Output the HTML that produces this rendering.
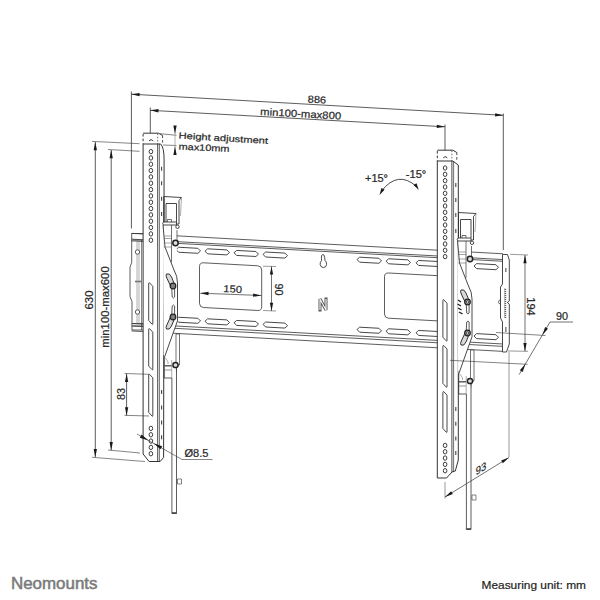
<!DOCTYPE html>
<html><head><meta charset="utf-8"><style>
html,body{margin:0;padding:0;background:#fff;width:600px;height:600px;overflow:hidden}
svg{display:block}
</style></head><body>
<svg width="600" height="600" viewBox="0 0 600 600" shape-rendering="geometricPrecision">
<line x1="131.50" y1="233.35" x2="503.00" y2="253.79" stroke="#333" stroke-width="0.8" />
<line x1="131.50" y1="239.15" x2="503.00" y2="259.58" stroke="#333" stroke-width="0.8" />
<line x1="131.50" y1="240.85" x2="503.00" y2="261.29" stroke="#333" stroke-width="0.8" />
<line x1="131.50" y1="323.55" x2="503.00" y2="343.99" stroke="#333" stroke-width="0.8" />
<line x1="131.50" y1="325.95" x2="503.00" y2="346.38" stroke="#333" stroke-width="0.8" />
<line x1="131.50" y1="330.95" x2="503.00" y2="351.38" stroke="#333" stroke-width="0.8" />
<path d="M176.00,249.60 L178.60,247.24 L197.90,248.30 L200.50,250.95 L197.90,253.30 L178.60,252.24 Z" stroke="#333" stroke-width="0.9" fill="none" stroke-linejoin="round"/>
<path d="M176.00,319.60 L178.60,317.24 L197.90,318.30 L200.50,320.95 L197.90,323.30 L178.60,322.24 Z" stroke="#333" stroke-width="0.9" fill="none" stroke-linejoin="round"/>
<path d="M205.00,251.19 L207.60,248.84 L226.90,249.90 L229.50,252.54 L226.90,254.90 L207.60,253.84 Z" stroke="#333" stroke-width="0.9" fill="none" stroke-linejoin="round"/>
<path d="M205.00,321.20 L207.60,318.84 L226.90,319.90 L229.50,322.54 L226.90,324.90 L207.60,323.84 Z" stroke="#333" stroke-width="0.9" fill="none" stroke-linejoin="round"/>
<path d="M234.00,252.79 L236.60,250.43 L255.90,251.49 L258.50,254.14 L255.90,256.49 L236.60,255.43 Z" stroke="#333" stroke-width="0.9" fill="none" stroke-linejoin="round"/>
<path d="M234.00,322.79 L236.60,320.43 L255.90,321.49 L258.50,324.14 L255.90,326.49 L236.60,325.43 Z" stroke="#333" stroke-width="0.9" fill="none" stroke-linejoin="round"/>
<path d="M263.00,254.38 L265.60,252.03 L284.90,253.09 L287.50,255.73 L284.90,258.09 L265.60,257.03 Z" stroke="#333" stroke-width="0.9" fill="none" stroke-linejoin="round"/>
<path d="M263.00,324.39 L265.60,322.03 L284.90,323.09 L287.50,325.73 L284.90,328.09 L265.60,327.03 Z" stroke="#333" stroke-width="0.9" fill="none" stroke-linejoin="round"/>
<path d="M357.00,259.56 L359.60,257.20 L378.90,258.26 L381.50,260.90 L378.90,263.26 L359.60,262.20 Z" stroke="#333" stroke-width="0.9" fill="none" stroke-linejoin="round"/>
<path d="M357.00,329.56 L359.60,327.20 L378.90,328.26 L381.50,330.90 L378.90,333.26 L359.60,332.20 Z" stroke="#333" stroke-width="0.9" fill="none" stroke-linejoin="round"/>
<path d="M386.00,261.15 L388.60,258.79 L407.90,259.85 L410.50,262.50 L407.90,264.85 L388.60,263.79 Z" stroke="#333" stroke-width="0.9" fill="none" stroke-linejoin="round"/>
<path d="M386.00,331.15 L388.60,328.79 L407.90,329.85 L410.50,332.50 L407.90,334.85 L388.60,333.79 Z" stroke="#333" stroke-width="0.9" fill="none" stroke-linejoin="round"/>
<path d="M416.00,262.80 L418.60,260.44 L437.90,261.50 L440.50,264.15 L437.90,266.50 L418.60,265.44 Z" stroke="#333" stroke-width="0.9" fill="none" stroke-linejoin="round"/>
<path d="M416.00,332.80 L418.60,330.44 L437.90,331.50 L440.50,334.15 L437.90,336.50 L418.60,335.44 Z" stroke="#333" stroke-width="0.9" fill="none" stroke-linejoin="round"/>
<path d="M474.00,265.99 L476.60,263.63 L495.90,264.69 L498.50,267.34 L495.90,269.69 L476.60,268.63 Z" stroke="#333" stroke-width="0.9" fill="none" stroke-linejoin="round"/>
<path d="M474.00,335.99 L476.60,333.63 L495.90,334.69 L498.50,337.34 L495.90,339.69 L476.60,338.63 Z" stroke="#333" stroke-width="0.9" fill="none" stroke-linejoin="round"/>
<path d="M203.5,262.81 L257.7,265.79 Q261.7,266.01 261.7,270.01 L261.7,306.71 Q261.7,310.71 257.7,310.49 L203.5,307.51 Q199.5,307.29 199.5,303.29 L199.5,266.59 Q199.5,262.59 203.5,262.81 Z" stroke="#333" stroke-width="0.8" fill="none" />
<path d="M388.5,272.99 L442,275.93 Q446,276.15 446,280.15 L446,317.35 Q446,321.35 442,321.13 L388.5,318.19 Q384.5,317.97 384.5,313.97 L384.5,276.77 Q384.5,272.77 388.5,272.99 Z" stroke="#333" stroke-width="0.8" fill="none" />
<path d="M322.6,254.5 Q321.2,255 321.4,258.5 L321.6,260.5 Q319.9,262 320.2,264.6 Q320.8,267.6 323.5,267.6 Q326.4,267.4 326.6,264.4 Q326.7,261.8 325,260.5 L324.7,257.5 Q324.3,254.3 322.6,254.5 Z" stroke="#333" stroke-width="0.9" fill="none" />
<path d="M320,310 L320,299 L326,310 L326,299" stroke="#555" stroke-width="3.0" fill="none" stroke-linejoin="miter" stroke-linecap="square"/>
<path d="M320,310 L320,299 L326,310 L326,299" stroke="#f4f4f4" stroke-width="1.2" fill="none" stroke-linejoin="miter" stroke-linecap="butt"/>
<path d="M131.7,233.5 L143,233.5 M132.5,240 L143,240 M131.7,233.5 L131.7,262.5 L130,267 L130,296.5 L132,301.5 L132,330 L143,330 M133,323.5 L143,323.5 M133,326 L143,326" stroke="#333" stroke-width="0.8" fill="none" />
<line x1="137.00" y1="240.00" x2="137.00" y2="323.50" stroke="#777" stroke-width="0.6" />
<line x1="139.00" y1="240.00" x2="139.00" y2="323.50" stroke="#777" stroke-width="0.6" />
<line x1="141.50" y1="240.00" x2="141.50" y2="330.00" stroke="#333" stroke-width="0.6" />
<circle cx="137.50" cy="252.00" r="2.2" stroke="#333" stroke-width="0.8" fill="#fff"/>
<circle cx="137.50" cy="312.00" r="2.2" stroke="#333" stroke-width="0.8" fill="#fff"/>
<line x1="135.00" y1="281.50" x2="142.00" y2="281.50" stroke="#777" stroke-width="1.6" />
<path d="M502.5,254.5 L507.5,254.5 L509.3,260 L509.3,301 L507.3,302.5 L509.3,304 L509.3,344 L506.5,352 L502.5,352 L502.5,322 L500.5,318 L500.5,287 L502.5,284 Z" stroke="#333" stroke-width="0.9" fill="#fff" />
<path d="M505.8,268 l0,4 M505.8,327 l0,5" stroke="#888" stroke-width="1.6" fill="none" />
<line x1="504.20" y1="289.00" x2="506.20" y2="289.60" stroke="#333" stroke-width="0.9" />
<line x1="504.20" y1="291.00" x2="506.20" y2="291.60" stroke="#333" stroke-width="0.9" />
<line x1="504.20" y1="293.00" x2="506.20" y2="293.60" stroke="#333" stroke-width="0.9" />
<line x1="504.20" y1="295.00" x2="506.20" y2="295.60" stroke="#333" stroke-width="0.9" />
<line x1="504.20" y1="297.00" x2="506.20" y2="297.60" stroke="#333" stroke-width="0.9" />
<line x1="504.20" y1="299.00" x2="506.20" y2="299.60" stroke="#333" stroke-width="0.9" />
<line x1="504.20" y1="301.00" x2="506.20" y2="301.60" stroke="#333" stroke-width="0.9" />
<line x1="504.20" y1="303.00" x2="506.20" y2="303.60" stroke="#333" stroke-width="0.9" />
<line x1="504.20" y1="305.00" x2="506.20" y2="305.60" stroke="#333" stroke-width="0.9" />
<line x1="504.20" y1="307.00" x2="506.20" y2="307.60" stroke="#333" stroke-width="0.9" />
<line x1="504.20" y1="309.00" x2="506.20" y2="309.60" stroke="#333" stroke-width="0.9" />
<line x1="504.20" y1="311.00" x2="506.20" y2="311.60" stroke="#333" stroke-width="0.9" />
<line x1="504.20" y1="313.00" x2="506.20" y2="313.60" stroke="#333" stroke-width="0.9" />
<line x1="504.20" y1="315.00" x2="506.20" y2="315.60" stroke="#333" stroke-width="0.9" />
<line x1="504.20" y1="317.00" x2="506.20" y2="317.60" stroke="#333" stroke-width="0.9" />
<path d="M500.5,300 a2,2 0 1 0 0,4" stroke="#333" stroke-width="0.7" fill="none" />
<path d="M143.1,144 L160.6,144 Q164.1,147 164.1,160 L163.6,457.5 L160.1,461.5 L149.1,461.5 L143.1,454.0 Z" stroke="#333" stroke-width="1.0" fill="#fff" />
<line x1="157.70" y1="144.00" x2="157.70" y2="461.00" stroke="#333" stroke-width="0.9" />
<line x1="159.40" y1="144.00" x2="159.40" y2="461.00" stroke="#333" stroke-width="0.7" />
<path d="M143.1,133.2 L158.6,133.2 L162.6,135.5" stroke="#333" stroke-width="1.0" fill="none" />
<path d="M143.1,134 L143.1,144" stroke="#333" stroke-width="1.0" fill="none" stroke-dasharray="2.6,2"/>
<path d="M162.6,135.5 L162.6,144" stroke="#333" stroke-width="0.9" fill="none" stroke-dasharray="2.6,2"/>
<path d="M157.7,133.5 L157.7,144" stroke="#333" stroke-width="0.7" fill="none" stroke-dasharray="1.6,1.6"/>
<path d="M149.1,140.8 q2,-2.4 4,0" stroke="#333" stroke-width="1.0" fill="none" />
<ellipse cx="150.90" cy="151.60" rx="1.8" ry="2.2" stroke="#333" stroke-width="0.95" fill="none"/>
<ellipse cx="150.90" cy="157.93" rx="1.8" ry="2.2" stroke="#333" stroke-width="0.95" fill="none"/>
<ellipse cx="150.90" cy="164.26" rx="1.8" ry="2.2" stroke="#333" stroke-width="0.95" fill="none"/>
<ellipse cx="150.90" cy="170.59" rx="1.8" ry="2.2" stroke="#333" stroke-width="0.95" fill="none"/>
<ellipse cx="150.90" cy="176.92" rx="1.8" ry="2.2" stroke="#333" stroke-width="0.95" fill="none"/>
<ellipse cx="150.90" cy="183.25" rx="1.8" ry="2.2" stroke="#333" stroke-width="0.95" fill="none"/>
<ellipse cx="150.90" cy="189.58" rx="1.8" ry="2.2" stroke="#333" stroke-width="0.95" fill="none"/>
<ellipse cx="150.90" cy="195.91" rx="1.8" ry="2.2" stroke="#333" stroke-width="0.95" fill="none"/>
<ellipse cx="150.90" cy="202.24" rx="1.8" ry="2.2" stroke="#333" stroke-width="0.95" fill="none"/>
<ellipse cx="150.90" cy="208.57" rx="1.8" ry="2.2" stroke="#333" stroke-width="0.95" fill="none"/>
<ellipse cx="150.90" cy="214.90" rx="1.8" ry="2.2" stroke="#333" stroke-width="0.95" fill="none"/>
<ellipse cx="150.90" cy="221.23" rx="1.8" ry="2.2" stroke="#333" stroke-width="0.95" fill="none"/>
<ellipse cx="150.90" cy="227.56" rx="1.8" ry="2.2" stroke="#333" stroke-width="0.95" fill="none"/>
<ellipse cx="150.90" cy="233.89" rx="1.8" ry="2.2" stroke="#333" stroke-width="0.95" fill="none"/>
<ellipse cx="150.90" cy="240.22" rx="1.8" ry="2.2" stroke="#333" stroke-width="0.95" fill="none"/>
<path d="M148.70,283.50 Q148.70,282.50 149.50,282.80 L152.80,286.30 L152.80,323.80 Q152.80,324.90 152.00,324.10 L148.70,320.50 Z" stroke="#333" stroke-width="0.9" fill="none" stroke-linejoin="round"/>
<path d="M148.70,329.40 Q148.70,328.40 149.50,328.70 L152.80,332.20 L152.80,369.30 Q152.80,370.40 152.00,369.60 L148.70,366.00 Z" stroke="#333" stroke-width="0.9" fill="none" stroke-linejoin="round"/>
<path d="M148.70,375.00 Q148.70,374.00 149.50,374.30 L152.80,377.80 L152.80,415.70 Q152.80,416.80 152.00,416.00 L148.70,412.40 Z" stroke="#333" stroke-width="0.9" fill="none" stroke-linejoin="round"/>
<ellipse cx="150.90" cy="428.40" rx="1.8" ry="2.2" stroke="#333" stroke-width="0.95" fill="none"/>
<ellipse cx="150.90" cy="434.73" rx="1.8" ry="2.2" stroke="#333" stroke-width="0.95" fill="none"/>
<ellipse cx="150.90" cy="441.06" rx="1.8" ry="2.2" stroke="#333" stroke-width="0.95" fill="none"/>
<ellipse cx="150.90" cy="447.39" rx="1.8" ry="2.2" stroke="#333" stroke-width="0.95" fill="none"/>
<ellipse cx="150.90" cy="453.72" rx="1.8" ry="2.2" stroke="#333" stroke-width="0.95" fill="none"/>
<line x1="161.60" y1="166.80" x2="161.60" y2="170.80" stroke="#444" stroke-width="1.1" />
<line x1="161.60" y1="181.30" x2="161.60" y2="185.30" stroke="#444" stroke-width="1.1" />
<line x1="161.60" y1="196.80" x2="161.60" y2="200.80" stroke="#444" stroke-width="1.1" />
<line x1="161.60" y1="212.00" x2="161.60" y2="216.00" stroke="#444" stroke-width="1.1" />
<line x1="161.60" y1="390.00" x2="161.60" y2="394.00" stroke="#444" stroke-width="1.1" />
<line x1="161.60" y1="405.40" x2="161.60" y2="409.40" stroke="#444" stroke-width="1.1" />
<line x1="161.60" y1="420.60" x2="161.60" y2="424.60" stroke="#444" stroke-width="1.1" />
<line x1="161.60" y1="435.20" x2="161.60" y2="439.20" stroke="#444" stroke-width="1.1" />
<path d="M437.3,161 L452.8,161 L458.3,165 L458.3,460 L455.3,471 L452.0,472 L446.5,478 L437.3,478 Z" stroke="#333" stroke-width="1.0" fill="#fff" />
<line x1="451.90" y1="161.00" x2="451.90" y2="472.00" stroke="#333" stroke-width="0.9" />
<line x1="453.60" y1="161.00" x2="453.60" y2="471.50" stroke="#333" stroke-width="0.7" />
<path d="M437.3,150.2 L452.8,150.2 L456.8,152.5" stroke="#333" stroke-width="1.0" fill="none" />
<path d="M437.3,151 L437.3,161" stroke="#333" stroke-width="1.0" fill="none" stroke-dasharray="2.6,2"/>
<path d="M456.8,152.5 L456.8,161" stroke="#333" stroke-width="0.9" fill="none" stroke-dasharray="2.6,2"/>
<path d="M451.90000000000003,150.5 L451.90000000000003,161" stroke="#333" stroke-width="0.7" fill="none" stroke-dasharray="1.6,1.6"/>
<path d="M443.3,157.8 q2,-2.4 4,0" stroke="#333" stroke-width="1.0" fill="none" />
<ellipse cx="445.10" cy="168.00" rx="1.8" ry="2.2" stroke="#333" stroke-width="0.95" fill="none"/>
<ellipse cx="445.10" cy="174.33" rx="1.8" ry="2.2" stroke="#333" stroke-width="0.95" fill="none"/>
<ellipse cx="445.10" cy="180.66" rx="1.8" ry="2.2" stroke="#333" stroke-width="0.95" fill="none"/>
<ellipse cx="445.10" cy="186.99" rx="1.8" ry="2.2" stroke="#333" stroke-width="0.95" fill="none"/>
<ellipse cx="445.10" cy="193.32" rx="1.8" ry="2.2" stroke="#333" stroke-width="0.95" fill="none"/>
<ellipse cx="445.10" cy="199.65" rx="1.8" ry="2.2" stroke="#333" stroke-width="0.95" fill="none"/>
<ellipse cx="445.10" cy="205.98" rx="1.8" ry="2.2" stroke="#333" stroke-width="0.95" fill="none"/>
<ellipse cx="445.10" cy="212.31" rx="1.8" ry="2.2" stroke="#333" stroke-width="0.95" fill="none"/>
<ellipse cx="445.10" cy="218.64" rx="1.8" ry="2.2" stroke="#333" stroke-width="0.95" fill="none"/>
<ellipse cx="445.10" cy="224.97" rx="1.8" ry="2.2" stroke="#333" stroke-width="0.95" fill="none"/>
<ellipse cx="445.10" cy="231.30" rx="1.8" ry="2.2" stroke="#333" stroke-width="0.95" fill="none"/>
<ellipse cx="445.10" cy="237.63" rx="1.8" ry="2.2" stroke="#333" stroke-width="0.95" fill="none"/>
<ellipse cx="445.10" cy="243.96" rx="1.8" ry="2.2" stroke="#333" stroke-width="0.95" fill="none"/>
<ellipse cx="445.10" cy="250.29" rx="1.8" ry="2.2" stroke="#333" stroke-width="0.95" fill="none"/>
<ellipse cx="445.10" cy="256.62" rx="1.8" ry="2.2" stroke="#333" stroke-width="0.95" fill="none"/>
<path d="M442.90,300.40 Q442.90,299.40 443.70,299.70 L447.00,303.20 L447.00,340.50 Q447.00,341.60 446.20,340.80 L442.90,337.20 Z" stroke="#333" stroke-width="0.9" fill="none" stroke-linejoin="round"/>
<path d="M442.90,346.20 Q442.90,345.20 443.70,345.50 L447.00,349.00 L447.00,386.70 Q447.00,387.80 446.20,387.00 L442.90,383.40 Z" stroke="#333" stroke-width="0.9" fill="none" stroke-linejoin="round"/>
<path d="M442.90,392.30 Q442.90,391.30 443.70,391.60 L447.00,395.10 L447.00,431.80 Q447.00,432.90 446.20,432.10 L442.90,428.50 Z" stroke="#333" stroke-width="0.9" fill="none" stroke-linejoin="round"/>
<ellipse cx="445.10" cy="445.40" rx="1.8" ry="2.2" stroke="#333" stroke-width="0.95" fill="none"/>
<ellipse cx="445.10" cy="451.73" rx="1.8" ry="2.2" stroke="#333" stroke-width="0.95" fill="none"/>
<ellipse cx="445.10" cy="458.06" rx="1.8" ry="2.2" stroke="#333" stroke-width="0.95" fill="none"/>
<ellipse cx="445.10" cy="464.39" rx="1.8" ry="2.2" stroke="#333" stroke-width="0.95" fill="none"/>
<ellipse cx="445.10" cy="470.72" rx="1.8" ry="2.2" stroke="#333" stroke-width="0.95" fill="none"/>
<line x1="455.80" y1="183.00" x2="455.80" y2="187.00" stroke="#444" stroke-width="1.1" />
<line x1="455.80" y1="198.00" x2="455.80" y2="202.00" stroke="#444" stroke-width="1.1" />
<line x1="455.80" y1="213.00" x2="455.80" y2="217.00" stroke="#444" stroke-width="1.1" />
<line x1="455.80" y1="229.00" x2="455.80" y2="233.00" stroke="#444" stroke-width="1.1" />
<line x1="455.80" y1="407.00" x2="455.80" y2="411.00" stroke="#444" stroke-width="1.1" />
<line x1="455.80" y1="421.70" x2="455.80" y2="425.70" stroke="#444" stroke-width="1.1" />
<line x1="455.80" y1="436.50" x2="455.80" y2="440.50" stroke="#444" stroke-width="1.1" />
<line x1="455.80" y1="451.00" x2="455.80" y2="455.00" stroke="#444" stroke-width="1.1" />
<path d="M163.60,222.00 L176.80,222.00 L176.80,268.00 L177.50,283.00 L177.50,321.00 L165.00,355.00 L163.60,355.00 Z" stroke="none" stroke-width="0" fill="#fff" />
<path d="M164.00,196.50 L181.50,197.50 L179.00,200.50 L179.00,224.00 L164.00,224.00 Z" stroke="#333" stroke-width="0.9" fill="#fff" />
<path d="M164.00,196.50 L164.00,224.00" stroke="#333" stroke-width="1.0" fill="none" />
<path d="M166.00,222.00 L166.00,203.50 L176.50,203.50 L176.50,222.00" stroke="#333" stroke-width="0.9" fill="none" />
<path d="M181.50,197.50 L180.50,216.00" stroke="#777" stroke-width="0.6" fill="none" />
<path d="M167.50,222.00 L167.50,219.50 L171.50,219.50 L171.50,222.00" stroke="#333" stroke-width="0.7" fill="none" />
<path d="M163.50,222.00 L176.50,222.00 L176.50,225.00 L163.50,225.00 Q161.80,223.50 163.50,222.00 Z" stroke="#333" stroke-width="0.9" fill="#fff" />
<circle cx="177.50" cy="226.80" r="1.7" stroke="#333" stroke-width="0.9" fill="none"/>
<path d="M163.00,225.00 L165.00,247.00 L174.00,270.00 Q177.50,276.00 177.50,283.00 L177.50,320.80 L164.20,358.00 L164.20,378.00" stroke="#333" stroke-width="0.9" fill="#fff" />
<path d="M171.50,225.00 L171.50,262.00" stroke="#333" stroke-width="0.7" fill="none" />
<line x1="163.80" y1="236.00" x2="171.50" y2="236.00" stroke="#666" stroke-width="0.6" />
<line x1="163.80" y1="238.50" x2="171.50" y2="238.50" stroke="#666" stroke-width="0.6" />
<line x1="163.80" y1="243.00" x2="171.50" y2="243.00" stroke="#666" stroke-width="0.6" />
<line x1="163.80" y1="247.00" x2="171.50" y2="247.00" stroke="#666" stroke-width="0.6" />
<line x1="177.00" y1="230.00" x2="177.00" y2="240.00" stroke="#333" stroke-width="0.7" />
<path d="M176.00,334.00 L179.50,334.00 L179.50,365.00 L176.00,365.00 Z" stroke="#333" stroke-width="0.7" fill="#fff" />
<circle cx="175.50" cy="365.00" r="2.6" stroke="#222" stroke-width="1.5" fill="#ddd"/>
<path d="M164.20,378.00 L171.70,378.00 Q176.30,377.50 176.50,368.00" stroke="#333" stroke-width="0.8" fill="none" />
<path d="M171.70,360.00 L171.70,378.00" stroke="#777" stroke-width="0.6" fill="none" />
<path d="M164.50,365.80 L171.50,365.80" stroke="#444" stroke-width="1.3" fill="none" />
<path d="M164.50,370.00 L171.50,370.00" stroke="#666" stroke-width="0.7" fill="none" />
<path d="M165.50,358.00 L168.00,362.00 L168.00,364.00" stroke="#777" stroke-width="0.6" fill="none" />
<path d="M171.90,378.00 L171.90,513.50 L176.50,513.50 L176.50,368.00" stroke="#333" stroke-width="0.8" fill="#fff" />
<line x1="171.90" y1="513.00" x2="176.50" y2="513.00" stroke="#444" stroke-width="1.6" />
<path d="M177.50,479.00 L181.50,479.00 L181.50,484.00 L177.50,484.00 Z" stroke="#333" stroke-width="0.6" fill="none" />
<circle cx="175.50" cy="243.00" r="2.7" stroke="#222" stroke-width="1.5" fill="#ddd"/>
<path d="M166.50,274.00 Q169.50,272.50 171.50,277.00 L174.80,285.00 L170.80,286.50 L166.80,278.00 Q165.50,275.50 166.50,274.00 Z" stroke="#333" stroke-width="1.0" fill="#d8d8d8" />
<path d="M171.70,287.00 L172.20,297.00 Q173.50,299.00 174.60,297.00 L174.60,287.00" stroke="#444" stroke-width="0.9" fill="#fff" />
<circle cx="173.00" cy="286.00" r="2.8" stroke="#222" stroke-width="1.2" fill="#999"/>
<circle cx="173.00" cy="286.00" r="1.2" stroke="#222" stroke-width="0.7" fill="#eee"/>
<path d="M166.50,329.00 Q169.50,330.50 171.50,326.00 L174.80,318.00 L170.80,316.50 L166.80,325.00 Q165.50,327.50 166.50,329.00 Z" stroke="#333" stroke-width="1.0" fill="#d8d8d8" />
<path d="M171.70,316.00 L172.20,306.00 Q173.50,304.00 174.60,306.00 L174.60,316.00" stroke="#444" stroke-width="0.9" fill="#fff" />
<circle cx="173.00" cy="317.00" r="2.8" stroke="#222" stroke-width="1.2" fill="#999"/>
<circle cx="173.00" cy="317.00" r="1.2" stroke="#222" stroke-width="0.7" fill="#eee"/>
<path d="M458.10,238.00 L471.30,238.00 L471.30,284.00 L472.00,299.00 L472.00,337.00 L459.50,371.00 L458.10,371.00 Z" stroke="none" stroke-width="0" fill="#fff" />
<path d="M458.50,212.50 L476.00,213.50 L473.50,216.50 L473.50,240.00 L458.50,240.00 Z" stroke="#333" stroke-width="0.9" fill="#fff" />
<path d="M458.50,212.50 L458.50,240.00" stroke="#333" stroke-width="1.0" fill="none" />
<path d="M460.50,238.00 L460.50,219.50 L471.00,219.50 L471.00,238.00" stroke="#333" stroke-width="0.9" fill="none" />
<path d="M476.00,213.50 L475.00,232.00" stroke="#777" stroke-width="0.6" fill="none" />
<path d="M462.00,238.00 L462.00,235.50 L466.00,235.50 L466.00,238.00" stroke="#333" stroke-width="0.7" fill="none" />
<path d="M458.00,238.00 L471.00,238.00 L471.00,241.00 L458.00,241.00 Q456.30,239.50 458.00,238.00 Z" stroke="#333" stroke-width="0.9" fill="#fff" />
<circle cx="472.00" cy="242.80" r="1.7" stroke="#333" stroke-width="0.9" fill="none"/>
<path d="M457.50,241.00 L459.50,263.00 L468.50,286.00 Q472.00,292.00 472.00,299.00 L472.00,336.80 L458.70,374.00 L458.70,394.00" stroke="#333" stroke-width="0.9" fill="#fff" />
<path d="M466.00,241.00 L466.00,278.00" stroke="#333" stroke-width="0.7" fill="none" />
<line x1="458.30" y1="252.00" x2="466.00" y2="252.00" stroke="#666" stroke-width="0.6" />
<line x1="458.30" y1="254.50" x2="466.00" y2="254.50" stroke="#666" stroke-width="0.6" />
<line x1="458.30" y1="259.00" x2="466.00" y2="259.00" stroke="#666" stroke-width="0.6" />
<line x1="458.30" y1="263.00" x2="466.00" y2="263.00" stroke="#666" stroke-width="0.6" />
<line x1="471.50" y1="246.00" x2="471.50" y2="256.00" stroke="#333" stroke-width="0.7" />
<path d="M470.50,350.00 L474.00,350.00 L474.00,381.00 L470.50,381.00 Z" stroke="#333" stroke-width="0.7" fill="#fff" />
<circle cx="470.00" cy="381.00" r="2.6" stroke="#222" stroke-width="1.5" fill="#ddd"/>
<path d="M458.70,394.00 L466.20,394.00 Q470.80,393.50 471.00,384.00" stroke="#333" stroke-width="0.8" fill="none" />
<path d="M466.20,376.00 L466.20,394.00" stroke="#777" stroke-width="0.6" fill="none" />
<path d="M459.00,381.80 L466.00,381.80" stroke="#444" stroke-width="1.3" fill="none" />
<path d="M459.00,386.00 L466.00,386.00" stroke="#666" stroke-width="0.7" fill="none" />
<path d="M460.00,374.00 L462.50,378.00 L462.50,380.00" stroke="#777" stroke-width="0.6" fill="none" />
<path d="M466.40,394.00 L466.40,529.50 L471.00,529.50 L471.00,384.00" stroke="#333" stroke-width="0.8" fill="#fff" />
<line x1="466.40" y1="529.00" x2="471.00" y2="529.00" stroke="#444" stroke-width="1.6" />
<path d="M472.00,495.00 L476.00,495.00 L476.00,500.00 L472.00,500.00 Z" stroke="#333" stroke-width="0.6" fill="none" />
<circle cx="470.00" cy="259.00" r="2.7" stroke="#222" stroke-width="1.5" fill="#ddd"/>
<path d="M461.00,290.00 Q464.00,288.50 466.00,293.00 L469.30,301.00 L465.30,302.50 L461.30,294.00 Q460.00,291.50 461.00,290.00 Z" stroke="#333" stroke-width="1.0" fill="#d8d8d8" />
<path d="M466.20,303.00 L466.70,313.00 Q468.00,315.00 469.10,313.00 L469.10,303.00" stroke="#444" stroke-width="0.9" fill="#fff" />
<circle cx="467.50" cy="302.00" r="2.8" stroke="#222" stroke-width="1.2" fill="#999"/>
<circle cx="467.50" cy="302.00" r="1.2" stroke="#222" stroke-width="0.7" fill="#eee"/>
<path d="M461.00,345.00 Q464.00,346.50 466.00,342.00 L469.30,334.00 L465.30,332.50 L461.30,341.00 Q460.00,343.50 461.00,345.00 Z" stroke="#333" stroke-width="1.0" fill="#d8d8d8" />
<path d="M466.20,332.00 L466.70,322.00 Q468.00,320.00 469.10,322.00 L469.10,332.00" stroke="#444" stroke-width="0.9" fill="#fff" />
<circle cx="467.50" cy="333.00" r="2.8" stroke="#222" stroke-width="1.2" fill="#999"/>
<circle cx="467.50" cy="333.00" r="1.2" stroke="#222" stroke-width="0.7" fill="#eee"/>
<line x1="458.00" y1="300.00" x2="461.00" y2="302.00" stroke="#222" stroke-width="1.4" />
<line x1="457.50" y1="304.00" x2="461.00" y2="306.00" stroke="#222" stroke-width="1.4" />
<line x1="458.00" y1="308.00" x2="461.50" y2="310.00" stroke="#222" stroke-width="1.4" />
<line x1="459.00" y1="312.00" x2="462.50" y2="314.00" stroke="#222" stroke-width="1.4" />
<line x1="131.40" y1="91.50" x2="131.40" y2="228.50" stroke="#333" stroke-width="0.8" />
<line x1="503.30" y1="113.50" x2="503.30" y2="250.00" stroke="#333" stroke-width="0.8" />
<line x1="131.40" y1="94.20" x2="503.30" y2="115.30" stroke="#333" stroke-width="0.8" />
<path d="M131.40,94.20 L139.68,93.02 L139.49,96.31 Z" fill="#1a1a1a"/>
<path d="M503.30,115.30 L495.02,116.48 L495.21,113.19 Z" fill="#1a1a1a"/>
<text x="316.8" y="103" font-family="Liberation Sans" font-size="10" fill="#2a2a2a" text-anchor="middle" font-weight="normal" textLength="18.5" lengthAdjust="spacingAndGlyphs" transform="rotate(3.2 316.8 103)" stroke="#2a2a2a" stroke-width="0.22">886</text>
<line x1="150.30" y1="107.50" x2="150.30" y2="133.00" stroke="#333" stroke-width="0.8" />
<line x1="445.00" y1="124.50" x2="445.00" y2="150.00" stroke="#333" stroke-width="0.8" />
<line x1="150.30" y1="110.30" x2="445.00" y2="126.80" stroke="#333" stroke-width="0.8" />
<path d="M150.30,110.30 L158.58,109.11 L158.39,112.41 Z" fill="#1a1a1a"/>
<path d="M445.00,126.80 L436.72,127.99 L436.91,124.69 Z" fill="#1a1a1a"/>
<text x="300.5" y="117.3" font-family="Liberation Sans" font-size="10.2" fill="#2a2a2a" text-anchor="middle" font-weight="normal" textLength="81" lengthAdjust="spacingAndGlyphs" transform="rotate(3.2 300.5 117.3)" stroke="#2a2a2a" stroke-width="0.22">min100-max800</text>
<line x1="160.00" y1="133.70" x2="176.50" y2="135.30" stroke="#333" stroke-width="0.6" />
<line x1="163.00" y1="145.00" x2="176.50" y2="145.50" stroke="#333" stroke-width="0.6" />
<line x1="175.00" y1="126.00" x2="175.00" y2="154.50" stroke="#999" stroke-width="0.8" />
<path d="M175.00,134.00 L173.35,125.40 L176.65,125.40 Z" fill="#1a1a1a"/>
<path d="M175.00,146.30 L176.65,154.90 L173.35,154.90 Z" fill="#1a1a1a"/>
<text x="178.5" y="138.6" font-family="Liberation Sans" font-size="9.0" fill="#2a2a2a" text-anchor="start" font-weight="normal" textLength="89.5" lengthAdjust="spacingAndGlyphs" transform="rotate(3.4 178.5 138.6)" stroke="#2a2a2a" stroke-width="0.22">Height adjustment</text>
<text x="178.5" y="149.6" font-family="Liberation Sans" font-size="9.0" fill="#2a2a2a" text-anchor="start" font-weight="normal" textLength="51" lengthAdjust="spacingAndGlyphs" transform="rotate(2.5 178.5 149.6)" stroke="#2a2a2a" stroke-width="0.22">max10mm</text>
<line x1="92.00" y1="141.40" x2="139.60" y2="143.70" stroke="#333" stroke-width="0.6" />
<line x1="92.00" y1="457.30" x2="145.00" y2="461.50" stroke="#333" stroke-width="0.6" />
<line x1="95.30" y1="142.00" x2="95.30" y2="457.30" stroke="#333" stroke-width="0.8" />
<path d="M95.30,142.00 L96.95,150.20 L93.65,150.20 Z" fill="#1a1a1a"/>
<path d="M95.30,457.30 L93.65,449.10 L96.95,449.10 Z" fill="#1a1a1a"/>
<text x="92.5" y="300" font-family="Liberation Sans" font-size="10" fill="#2a2a2a" text-anchor="middle" font-weight="normal" textLength="19" lengthAdjust="spacingAndGlyphs" transform="rotate(-90 92.5 300)" stroke="#2a2a2a" stroke-width="0.22">630</text>
<line x1="108.00" y1="149.50" x2="139.60" y2="151.30" stroke="#333" stroke-width="0.6" />
<line x1="108.00" y1="450.00" x2="140.00" y2="453.00" stroke="#333" stroke-width="0.6" />
<line x1="111.20" y1="150.00" x2="111.20" y2="450.30" stroke="#333" stroke-width="0.8" />
<path d="M111.20,150.00 L112.85,158.20 L109.55,158.20 Z" fill="#1a1a1a"/>
<path d="M111.20,450.30 L109.55,442.10 L112.85,442.10 Z" fill="#1a1a1a"/>
<text x="108.8" y="307" font-family="Liberation Sans" font-size="10.2" fill="#2a2a2a" text-anchor="middle" font-weight="normal" textLength="81.5" lengthAdjust="spacingAndGlyphs" transform="rotate(-90 108.8 307)" stroke="#2a2a2a" stroke-width="0.22">min100-max600</text>
<line x1="124.50" y1="373.50" x2="149.00" y2="374.30" stroke="#333" stroke-width="0.6" />
<line x1="124.50" y1="415.30" x2="149.00" y2="416.00" stroke="#333" stroke-width="0.6" />
<line x1="126.60" y1="373.80" x2="126.60" y2="415.50" stroke="#333" stroke-width="0.8" />
<path d="M126.60,373.80 L128.25,382.00 L124.95,382.00 Z" fill="#1a1a1a"/>
<path d="M126.60,415.50 L124.95,407.30 L128.25,407.30 Z" fill="#1a1a1a"/>
<text x="125" y="394" font-family="Liberation Sans" font-size="10" fill="#2a2a2a" text-anchor="middle" font-weight="normal" textLength="12" lengthAdjust="spacingAndGlyphs" transform="rotate(-90 125 394)" stroke="#2a2a2a" stroke-width="0.22">83</text>
<line x1="137.00" y1="434.00" x2="182.00" y2="459.50" stroke="#333" stroke-width="0.6" />
<line x1="182.00" y1="459.50" x2="212.50" y2="459.50" stroke="#333" stroke-width="0.6" />
<path d="M148.50,440.50 L139.78,437.63 L141.56,434.50 Z" fill="#1a1a1a"/>
<path d="M153.50,443.30 L162.22,446.17 L160.44,449.30 Z" fill="#1a1a1a"/>
<text x="184.5" y="457" font-family="Liberation Sans" font-size="10" fill="#2a2a2a" text-anchor="start" font-weight="normal" textLength="24" lengthAdjust="spacingAndGlyphs"  stroke="#2a2a2a" stroke-width="0.22">Ø8.5</text>
<line x1="200.30" y1="293.20" x2="261.30" y2="295.50" stroke="#333" stroke-width="0.7" />
<path d="M200.30,293.20 L208.56,291.86 L208.43,295.16 Z" fill="#1a1a1a"/>
<path d="M261.30,295.50 L253.04,296.84 L253.17,293.54 Z" fill="#1a1a1a"/>
<text x="232.6" y="292.5" font-family="Liberation Sans" font-size="10" fill="#2a2a2a" text-anchor="middle" font-weight="normal" textLength="18.5" lengthAdjust="spacingAndGlyphs" transform="rotate(2.5 232.6 292.5)" stroke="#2a2a2a" stroke-width="0.22">150</text>
<line x1="263.00" y1="266.20" x2="276.00" y2="266.50" stroke="#333" stroke-width="0.5" />
<line x1="263.00" y1="310.50" x2="276.00" y2="311.00" stroke="#333" stroke-width="0.5" />
<line x1="271.50" y1="266.40" x2="271.50" y2="311.00" stroke="#333" stroke-width="0.7" />
<path d="M271.50,266.40 L273.15,274.60 L269.85,274.60 Z" fill="#1a1a1a"/>
<path d="M271.50,311.00 L269.85,302.80 L273.15,302.80 Z" fill="#1a1a1a"/>
<text x="274.8" y="289.5" font-family="Liberation Sans" font-size="10" fill="#2a2a2a" text-anchor="middle" font-weight="normal" textLength="12" lengthAdjust="spacingAndGlyphs" transform="rotate(90 274.8 289.5)" stroke="#2a2a2a" stroke-width="0.22">90</text>
<line x1="510.00" y1="254.30" x2="528.00" y2="255.00" stroke="#333" stroke-width="0.5" />
<line x1="510.00" y1="351.00" x2="528.00" y2="351.30" stroke="#333" stroke-width="0.5" />
<line x1="525.00" y1="255.00" x2="525.00" y2="351.30" stroke="#333" stroke-width="0.7" />
<path d="M525.00,255.00 L526.65,263.20 L523.35,263.20 Z" fill="#1a1a1a"/>
<path d="M525.00,351.30 L523.35,343.10 L526.65,343.10 Z" fill="#1a1a1a"/>
<text x="527" y="306.5" font-family="Liberation Sans" font-size="10" fill="#2a2a2a" text-anchor="middle" font-weight="normal" textLength="18.5" lengthAdjust="spacingAndGlyphs" transform="rotate(90 527 306.5)" stroke="#2a2a2a" stroke-width="0.22">194</text>
<line x1="496.00" y1="332.50" x2="545.50" y2="335.50" stroke="#333" stroke-width="0.6" />
<line x1="450.00" y1="360.30" x2="527.50" y2="364.30" stroke="#333" stroke-width="0.6" />
<line x1="519.20" y1="374.50" x2="550.00" y2="322.00" stroke="#333" stroke-width="0.7" />
<path d="M542.40,335.00 L545.13,327.09 L547.97,328.76 Z" fill="#1a1a1a"/>
<path d="M525.40,364.00 L522.67,371.91 L519.83,370.24 Z" fill="#1a1a1a"/>
<line x1="550.00" y1="322.00" x2="573.00" y2="322.00" stroke="#333" stroke-width="0.7" />
<text x="562" y="319.7" font-family="Liberation Sans" font-size="10" fill="#2a2a2a" text-anchor="middle" font-weight="normal" textLength="12" lengthAdjust="spacingAndGlyphs"  stroke="#2a2a2a" stroke-width="0.22">90</text>
<line x1="445.00" y1="482.00" x2="445.00" y2="498.50" stroke="#333" stroke-width="0.5" />
<line x1="509.00" y1="350.00" x2="509.00" y2="457.00" stroke="#333" stroke-width="0.5" />
<line x1="445.00" y1="497.00" x2="509.00" y2="457.50" stroke="#333" stroke-width="0.7" />
<path d="M445.00,497.00 L451.11,491.29 L452.84,494.10 Z" fill="#1a1a1a"/>
<path d="M509.00,457.50 L502.89,463.21 L501.16,460.40 Z" fill="#1a1a1a"/>
<text x="0" y="0" transform="translate(481,472.3) skewY(-32)" font-family="Liberation Sans" font-size="11" fill="#2a2a2a" stroke="#2a2a2a" stroke-width="0.22" text-anchor="middle" textLength="10.5" lengthAdjust="spacingAndGlyphs">93</text>
<text x="376.5" y="182.4" font-family="Liberation Sans" font-size="10" fill="#2a2a2a" text-anchor="middle" font-weight="normal" textLength="23" lengthAdjust="spacingAndGlyphs"  stroke="#2a2a2a" stroke-width="0.22">+15°</text>
<text x="416" y="177.6" font-family="Liberation Sans" font-size="10" fill="#2a2a2a" text-anchor="middle" font-weight="normal" textLength="20.5" lengthAdjust="spacingAndGlyphs"  stroke="#2a2a2a" stroke-width="0.22">-15°</text>
<path d="M381.5,191 Q398,170 416.5,186.5" stroke="#333" stroke-width="0.9" fill="none" />
<path d="M379.50,195.00 L381.43,188.03 L384.55,189.83 Z" fill="#1a1a1a"/>
<path d="M418.80,190.00 L413.49,185.10 L416.51,183.15 Z" fill="#1a1a1a"/>
<text x="11" y="588.7" font-family="Liberation Sans" font-size="15.6" fill="#7a7a7a" text-anchor="start" font-weight="normal" textLength="86.5" lengthAdjust="spacingAndGlyphs"  stroke="#7a7a7a" stroke-width="0.5">Neomounts</text>
<text x="481.5" y="589.2" font-family="Liberation Sans" font-size="11.4" fill="#222" text-anchor="start" font-weight="normal" textLength="104.5" lengthAdjust="spacingAndGlyphs"  stroke="#222" stroke-width="0.2">Measuring unit: mm</text>
</svg></body></html>
